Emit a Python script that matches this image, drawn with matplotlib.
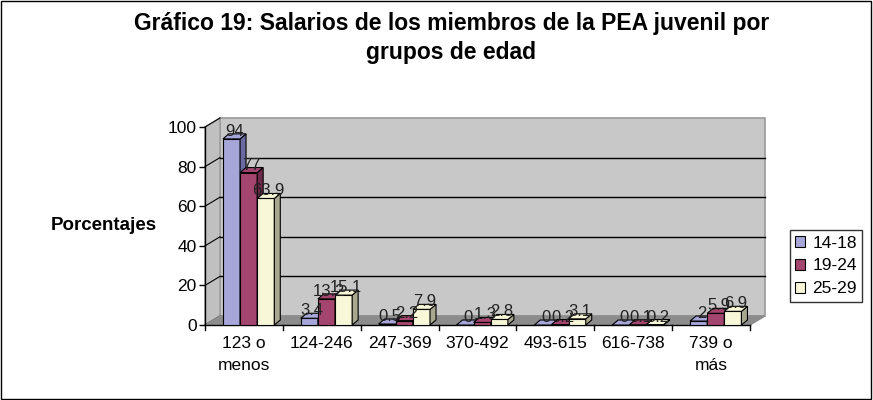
import matplotlib.pyplot as plt
import matplotlib.transforms as mtransforms
from matplotlib.patches import Polygon, Rectangle
import numpy as np

plt.rcParams['font.family'] = ['Liberation Sans', 'DejaVu Sans']

# Datos del gráfico
categorias = ['123 o\nmenos', '124-246', '247-369', '370-492', '493-615', '616-738', '739 o\nmás']
grupos = ['14-18', '19-24', '25-29']
v_14_18 = [94, 3.4, 0.5, 0, 0, 0, 2]
v_19_24 = [77, 13.2, 2.2, 1.3, 0.2, 0.1, 5.9]
v_25_29 = [63.9, 15.1, 7.9, 2.8, 3.1, 0.2, 6.9]
yticks = [0, 20, 40, 60, 80, 100]

series = [v_14_18, v_19_24, v_25_29]
colores = ['#a6a6d8', '#a3456f', '#f8f8d8']
lados = ['#6a6aa0', '#6e2a4a', '#a8a890']

fig = plt.figure(figsize=(8.73, 4.0), dpi=100)
fig.patches.append(Rectangle((0.001, 0.002), 0.997, 0.995, transform=fig.transFigure,
                             fill=False, edgecolor='black', lw=1))

ax = fig.add_axes([205 / 873, 75 / 400, 545 / 873, 198 / 400])
ax.set_xlim(-0.5, len(categorias) - 0.5)
ax.set_ylim(0, 100)
ax.patch.set_visible(False)
for s in ['top', 'right', 'bottom', 'left']:
    ax.spines[s].set_visible(False)

# profundidad de la pared (en pixeles)
pared = mtransforms.offset_copy(ax.transData, fig=fig, x=15, y=9, units='dots')
x0, x1 = -0.5, len(categorias) - 0.5

# pared del fondo
ax.add_patch(Rectangle((x0, 0), x1 - x0, 100, transform=pared, facecolor='#c8c8c8',
                       edgecolor='#9a9a9a', lw=1.2, zorder=0, clip_on=False))
for t in yticks[1:-1]:
    ax.plot([x0, x1], [t, t], color='black', lw=1, transform=pared, zorder=1, clip_on=False)

# pared izquierda y suelo
inv = ax.transData.inverted()
def esquina(x, y):
    px, py = pared.transform((x, y))
    return inv.transform((px, py))

p_l0 = esquina(x0, 0)
p_l1 = esquina(x0, 100)
ax.add_patch(Polygon([(x0, 0), (x0, 100), p_l1, p_l0], closed=True, facecolor='#c0c0c0',
                     edgecolor='#9a9a9a', lw=1, zorder=0, clip_on=False))
for t in yticks:
    ax.plot([x0, esquina(x0, t)[0]], [t, esquina(x0, t)[1]], color='black', lw=0.8,
            zorder=1, clip_on=False)
ax.add_patch(Polygon([(x0, 0), (x1, 0), esquina(x1, 0), esquina(x0, 0)], closed=True,
                     facecolor='#8c8c8c', edgecolor='#8c8c8c', lw=1, zorder=1, clip_on=False))

# barras con efecto 3D
ancho = 0.22
desplaz = 0.06
prof = mtransforms.offset_copy(ax.transData, fig=fig, x=6, y=5, units='dots')
def fondo(x, y):
    return inv.transform(prof.transform((x, y)))

for i, (vals, c, cl) in enumerate(zip(series, colores, lados)):
    xs = np.arange(len(categorias)) + (i - 1) * ancho + desplaz
    ax.bar(xs, vals, width=ancho, color=c, edgecolor='black', lw=0.8, zorder=3 + i,
           label=grupos[i])
    for x, v in zip(xs, vals):
        l, r = x - ancho / 2, x + ancho / 2
        ax.add_patch(Polygon([(r, 0), (r, v), fondo(r, v), fondo(r, 0)], closed=True,
                             facecolor=cl, edgecolor='black', lw=0.8, zorder=3 + i,
                             clip_on=False))
        ax.add_patch(Polygon([(l, v), (r, v), fondo(r, v), fondo(l, v)], closed=True,
                             facecolor=c, edgecolor='black', lw=0.8, zorder=3 + i,
                             clip_on=False))
        ax.annotate(f'{v:g}', (x, v), xytext=(2, 0), textcoords='offset points',
                    ha='center', va='bottom', fontsize=12, color='#222222', zorder=10)

# ejes
ax.plot([x0, x0], [0, 100], color='black', lw=1, clip_on=False, zorder=2)
ax.plot([x0, x1], [0, 0], color='black', lw=1, clip_on=False, zorder=2)
ax.set_yticks(yticks)
ax.set_yticklabels([str(t) for t in yticks], fontsize=12.5)
ax.tick_params(axis='y', length=4, width=1, pad=2)
ax.set_xticks(np.arange(len(categorias)))
ax.set_xticklabels(categorias, fontsize=12.5, linespacing=1.6)
ax.tick_params(axis='x', length=0, pad=8)
for b in np.arange(len(categorias) + 1) - 0.5:
    ax.plot([b, b], [0, -2.5], color='black', lw=1, clip_on=False, zorder=2)

ax.set_ylabel('Porcentajes', fontsize=13.5, fontweight='bold', rotation=0,
              ha='right', va='center', labelpad=8)

fig.text(0.517, 0.905, 'Gráfico 19: Salarios de los miembros de la PEA juvenil por\ngrupos de edad',
         ha='center', va='center', fontsize=16.5, fontweight='bold', linespacing=1.35)

leg = ax.legend(loc='center left', bbox_to_anchor=(781 / 873, 0.335),
                bbox_transform=fig.transFigure, fontsize=12.5, frameon=True,
                fancybox=False, edgecolor='black', handlelength=0.6, handleheight=0.6,
                handletextpad=0.4, borderpad=0.3, labelspacing=0.45)
leg.get_frame().set_linewidth(1)

fig.savefig('out.png', dpi=100)
